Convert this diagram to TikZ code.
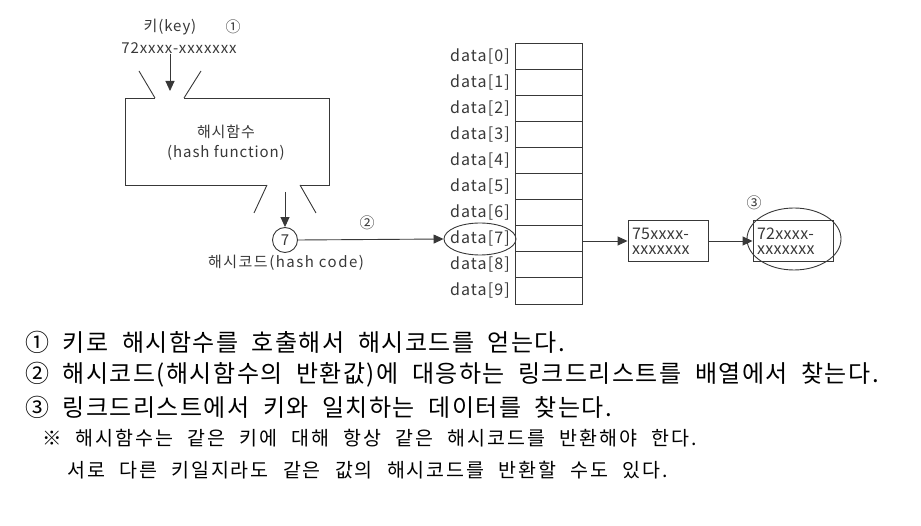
\documentclass[tikz,border=0pt]{standalone}
\usepackage{fontspec}
\setmainfont{Noto Sans CJK KR}
\newfontfamily\mainkr[LetterSpace=6,WordSpace=2]{Noto Sans CJK KR}
\newfontfamily\notekr[LetterSpace=10,WordSpace=2.25]{Noto Sans CJK KR}
\usetikzlibrary{arrows.meta,shapes.geometric}
\definecolor{ink}{HTML}{383838}
\tikzset{
  ln/.style={draw=ink, line width=0.9pt},
  arr/.style={ln, -{Triangle[length=10pt,width=9pt]}},
  lbl/.style={inner sep=0pt, text=ink, font=\fontsize{15}{17}\selectfont\addfontfeatures{LetterSpace=6}},
  dlbl/.style={lbl, anchor=east, font=\fontsize{16}{18}\selectfont\addfontfeatures{LetterSpace=7}},
  cellbox/.style={ln, minimum width=67pt, minimum height=26.1pt, inner sep=0pt},
  listbox/.style={ln, minimum width=80pt, minimum height=41pt, inner xsep=4pt, inner ysep=2pt,
    text width=72pt, text=ink, align=left,
    font=\fontsize{16}{15}\selectfont\addfontfeatures{LetterSpace=2}},
  mainline/.style={anchor=west, inner sep=0pt,
    font=\mainkr\fontsize{24}{26}\selectfont},
  noteline/.style={anchor=west, inner sep=0pt,
    font=\notekr\fontsize{19.5}{22}\selectfont},
}
\begin{document}
\begin{tikzpicture}[x=1pt,y=-1pt]
\useasboundingbox (0,0) rectangle (921,526);
% key
\node[lbl] (key) at (170,27) {키(key)};
\node[lbl] (n1) at (233,27) {①};
\node[lbl] (keyval) at (179,48) {72xxxx-xxxxxxx};
\coordinate (hin) at (170,91);
\draw[arr] (keyval.south -| hin) -- (hin);
% hash function box with funnels
\draw[ln] (155,98) -- (125,98) -- (125,185) -- (267,185);
\draw[ln] (300,185) -- (329,185) -- (329,98) -- (184,98);
\draw[ln] (155,98) -- (139,71);
\draw[ln] (184,98) -- (201,71);
\draw[ln] (267,185) -- (254,213);
\draw[ln] (300,185) -- (316,213);
\node[lbl, align=center] (hf) at (226,143) {해시함수\\[3pt](hash function)};
% hash code
\node[ln, circle, minimum size=25pt, inner sep=0pt, text=ink, font=\fontsize{15}{17}\selectfont] (code) at (285,240) {7};
\coordinate (hout) at (285,192);
\draw[arr] (hout) -- (code.north);
\node[lbl, font=\fontsize{15}{17}\selectfont\addfontfeatures{LetterSpace=10}] (codelbl) at (286,263) {해시코드(hash code)};
% array
\foreach \i in {0,...,9} {
  \node[cellbox] (cell\i) at (548.5, 56.05+26.1*\i) {};
  \node[dlbl] (d\i) at (510, 56.05+26.1*\i) {data[\i]};
}
\node[ln, ellipse, minimum width=72pt, minimum height=32pt, inner sep=0pt] (d7e) at (480,239) {};
\draw[arr] (code.east) -- (d7e.west);
\node[lbl] (n2) at (367,223) {②};
% linked list
\node[listbox] (b75) at (668,241) {75xxxx-\\xxxxxxx};
\node[listbox] (b72) at (793,241) {72xxxx-\\xxxxxxx};
\node[ln, ellipse, minimum width=94pt, minimum height=62pt, inner sep=0pt] (e72) at (794,239) {};
\node[lbl] (n3) at (754,203) {③};
\draw[arr] (cell7.east |- b75.west) -- (b75.west);
\draw[arr] (b75.east) -- (b72.west);
% explanation
\node[mainline] (t1) at (25,342) {① 키로 해시함수를 호출해서 해시코드를 얻는다.};
\node[mainline] (t2) at (25,375) {② 해시코드(해시함수의 반환값)에 대응하는 링크드리스트를 배열에서 찾는다.};
\node[mainline] (t3) at (25,407) {③ 링크드리스트에서 키와 일치하는 데이터를 찾는다.};
\node[noteline] (t4) at (42,438) {※ 해시함수는 같은 키에 대해 항상 같은 해시코드를 반환해야 한다.};
\node[noteline] (t5) at (67,470) {서로 다른 키일지라도 같은 값의 해시코드를 반환할 수도 있다.};
\end{tikzpicture}
\end{document}
